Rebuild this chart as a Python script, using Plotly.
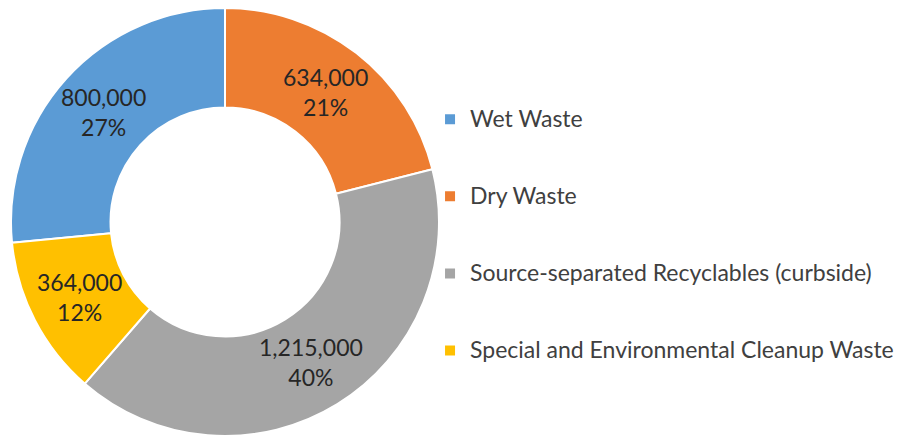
import math
import plotly.graph_objects as go

categories = ["Wet Waste", "Dry Waste", "Source-separated Recyclables (curbside)",
              "Special and Environmental Cleanup Waste"]
values = [800000, 634000, 1215000, 364000]
colors = ["#5B9BD5", "#ED7D31", "#A5A5A5", "#FFC000"]

W, H = 908, 436
dom_x = [3 / W, 431 / W]
dom_y = [8 / H, 436 / H]
hole = 0.535

total = sum(values)
rotation = -values[0] / total * 360
legend_names = ["<br><span style='font-size:23px'>" + c + "</span><br> " for c in categories]

fig = go.Figure(go.Pie(
    labels=legend_names,
    values=values,
    customdata=categories,
    hole=hole,
    sort=False,
    direction="clockwise",
    rotation=rotation,
    marker=dict(colors=colors, line=dict(color="white", width=2)),
    textinfo="none",
    domain=dict(x=dom_x, y=dom_y),
    hovertemplate="%{customdata}: %{value:,.0f} (%{percent})<extra></extra>",
))

# data labels at the middle of each ring segment (Excel style)
cx_px = (dom_x[0] + dom_x[1]) / 2 * W
cy_px = (dom_y[0] + dom_y[1]) / 2 * H
radius_px = min((dom_x[1] - dom_x[0]) * W, (dom_y[1] - dom_y[0]) * H) / 2
mid_r = radius_px * (1 + hole) / 2
annotations = []
cum = 0
for v in values:
    theta = math.radians(rotation + 360 * (cum + v / 2) / total)
    cum += v
    px = cx_px + mid_r * math.sin(theta)
    py = cy_px + mid_r * math.cos(theta)
    annotations.append(dict(
        x=px / W, y=py / H, xref="paper", yref="paper",
        xanchor="center", yanchor="middle", showarrow=False,
        text=f"{v:,.0f}<br>{round(v / total * 100):.0f}%",
        font=dict(family="Lato", size=23, color="#262626"),
    ))

fig.update_layout(
    width=W, height=H,
    margin=dict(l=0, r=0, t=0, b=0),
    paper_bgcolor="white",
    plot_bgcolor="white",
    showlegend=True,
    annotations=annotations,
    legend=dict(
        x=0.4648, xanchor="left",
        y=0.479, yanchor="middle",
        font=dict(family="Lato", size=19, color="#404040"),
        itemwidth=30,
        bgcolor="rgba(0,0,0,0)",
    ),
)

fig.write_html("out.html")
